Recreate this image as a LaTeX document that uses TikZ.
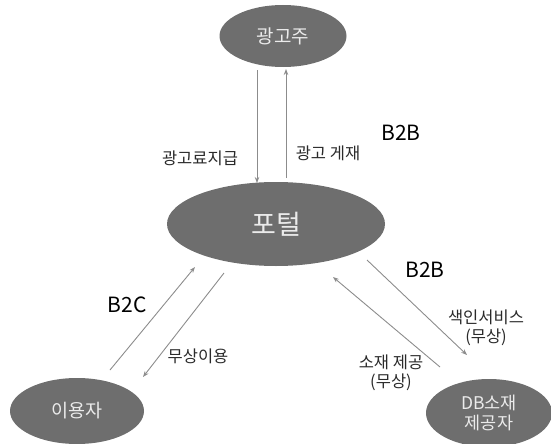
\documentclass[tikz,border=0pt]{standalone}
\usepackage{fontspec}
\setmainfont{Noto Sans CJK KR}
\usetikzlibrary{shapes.geometric,arrows.meta}
\definecolor{ellgray}{HTML}{6E6E6E}
\definecolor{arrgray}{HTML}{8C8C8C}
\definecolor{txtgray}{HTML}{2A2A2A}
\tikzset{
  party/.style={ellipse, fill=ellgray, draw=none, inner sep=0pt, text=white!92!black, align=center},
  flow/.style={draw=arrgray, line width=0.9pt, -{Stealth[length=6pt,width=4.5pt]}},
  lbl/.style={text=txtgray, font=\fontsize{16.5}{19}\selectfont, align=center, inner sep=0pt},
  biz/.style={text=black, font=\fontsize{21}{24}\selectfont, inner sep=0pt}
}
\begin{document}
\begin{tikzpicture}[x=1pt,y=-1pt]
\useasboundingbox (0,0) rectangle (551,444);
% nodes
\node[party, minimum width=127pt, minimum height=62pt, font=\fontsize{19}{21}\selectfont] (ad) at (283,36) {광고주};
\node[party, minimum width=218pt, minimum height=84pt, font=\fontsize{27}{30}\selectfont] (portal) at (276,224) {포털};
\node[party, minimum width=134pt, minimum height=66pt, font=\fontsize{18.5}{20}\selectfont] (user) at (77,411) {이용자};
\node[party, minimum width=126pt, minimum height=68pt, font=\fontsize{17.5}{20}\selectfont] (db) at (489,413) {DB소재\\제공자};
% arrow end points
\coordinate (a1s) at (257,70);  \coordinate (a1e) at (257,183);
\coordinate (a2s) at (286,178); \coordinate (a2e) at (286,69);
\coordinate (u1s) at (110,370); \coordinate (u1e) at (195,267);
\coordinate (u2s) at (224,273); \coordinate (u2e) at (143,377);
\coordinate (d1s) at (367,260); \coordinate (d1e) at (467,355);
\coordinate (d2s) at (440,367); \coordinate (d2e) at (333,277);
% connectors
\draw[flow] (a1s) -- (a1e);
\draw[flow] (a2s) -- (a2e);
\draw[flow] (u1s) -- (u1e);
\draw[flow] (u2s) -- (u2e);
\draw[flow] (d1s) -- (d1e);
\draw[flow] (d2s) -- (d2e);
% labels
\node[lbl] (l1) at (200,158) {광고료지급};
\node[lbl] (l2) at (328,153) {광고 게재};
\node[biz] (b1) at (401,133) {B2B};
\node[biz] (b2) at (127,305) {B2C};
\node[lbl] (l3) at (198,356) {무상이용};
\node[biz] (b3) at (425,270) {B2B};
\node[lbl] (l4) at (486,328) {색인서비스\\(무상)};
\node[lbl] (l5) at (391,373) {소재 제공\\(무상)};
\end{tikzpicture}
\end{document}
